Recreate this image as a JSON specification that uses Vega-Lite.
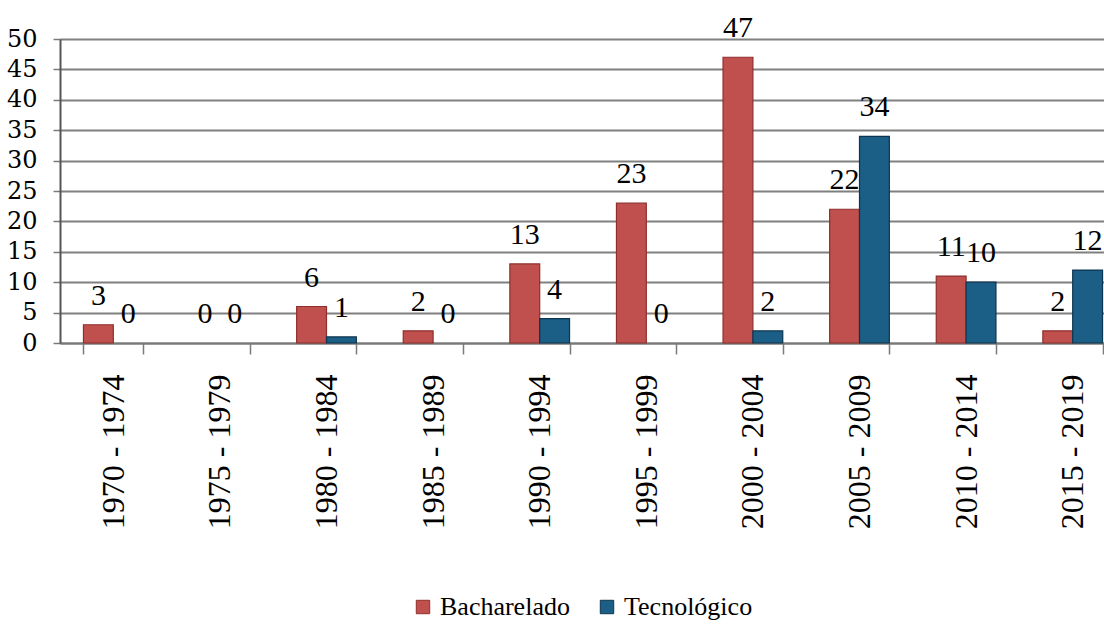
{
  "$schema": "https://vega.github.io/schema/vega-lite/v6.json",
  "autosize": {"type": "none"},
  "padding": {"left": 60, "top": 39, "right": 0, "bottom": 283},
  "width": 1044,
  "height": 304,
  "background": "white",
  "config": {
    "font": "serif",
    "view": {"stroke": null}
  },
  "data": {
    "values": [
      {"periodo": "1970 - 1974", "serie": "Bacharelado", "valor": 3},
      {"periodo": "1970 - 1974", "serie": "Tecnológico", "valor": 0},
      {"periodo": "1975 - 1979", "serie": "Bacharelado", "valor": 0},
      {"periodo": "1975 - 1979", "serie": "Tecnológico", "valor": 0},
      {"periodo": "1980 - 1984", "serie": "Bacharelado", "valor": 6},
      {"periodo": "1980 - 1984", "serie": "Tecnológico", "valor": 1},
      {"periodo": "1985 - 1989", "serie": "Bacharelado", "valor": 2},
      {"periodo": "1985 - 1989", "serie": "Tecnológico", "valor": 0},
      {"periodo": "1990 - 1994", "serie": "Bacharelado", "valor": 13},
      {"periodo": "1990 - 1994", "serie": "Tecnológico", "valor": 4},
      {"periodo": "1995 - 1999", "serie": "Bacharelado", "valor": 23},
      {"periodo": "1995 - 1999", "serie": "Tecnológico", "valor": 0},
      {"periodo": "2000 - 2004", "serie": "Bacharelado", "valor": 47},
      {"periodo": "2000 - 2004", "serie": "Tecnológico", "valor": 2},
      {"periodo": "2005 - 2009", "serie": "Bacharelado", "valor": 22},
      {"periodo": "2005 - 2009", "serie": "Tecnológico", "valor": 34},
      {"periodo": "2010 - 2014", "serie": "Bacharelado", "valor": 11},
      {"periodo": "2010 - 2014", "serie": "Tecnológico", "valor": 10},
      {"periodo": "2015 - 2019", "serie": "Bacharelado", "valor": 2},
      {"periodo": "2015 - 2019", "serie": "Tecnológico", "valor": 12}
    ]
  },
  "encoding": {
    "x": {
      "field": "periodo",
      "type": "nominal",
      "sort": null,
      "scale": {"range": [0, 1066], "paddingInner": 0.44, "paddingOuter": 0.22},
      "axis": {
        "title": null,
        "labelAngle": 270,
        "labelAlign": "right",
        "labelBaseline": "middle",
        "labelFont": "serif",
        "labelFontSize": 32,
        "labelColor": "black",
        "labelPadding": 20,
        "tickBand": "extent",
        "tickSize": 11,
        "tickColor": "#7a7a7a",
        "tickWidth": 1.5,
        "domainColor": "#7a7a7a",
        "domainWidth": 2,
        "grid": false
      }
    },
    "xOffset": {"field": "serie", "type": "nominal", "scale": {"paddingInner": 0, "paddingOuter": 0}},
    "y": {
      "field": "valor",
      "type": "quantitative",
      "scale": {"domain": [0, 50], "nice": false},
      "axis": {
        "title": null,
        "values": [0, 5, 10, 15, 20, 25, 30, 35, 40, 45, 50],
        "labelFont": "DejaVu Serif",
        "labelFontSize": 24,
        "labelColor": "black",
        "labelPadding": 16,
        "tickSize": 7,
        "tickColor": "#7a7a7a",
        "tickWidth": 1.5,
        "domainColor": "#555555",
        "domainWidth": 2,
        "grid": true,
        "gridColor": "#808080",
        "gridWidth": 1.8
      }
    }
  },
  "layer": [
    {
      "mark": {"type": "bar", "strokeWidth": 1.2},
      "encoding": {
        "color": {
          "field": "serie",
          "type": "nominal",
          "scale": {"domain": ["Bacharelado", "Tecnológico"], "range": ["#C0504D", "#1B5E86"]},
          "legend": {
            "title": null,
            "orient": "none",
            "legendX": 350,
            "legendY": 555,
            "direction": "horizontal",
            "symbolType": "square",
            "symbolSize": 180,
            "symbolStrokeWidth": 1,
            "labelFont": "Liberation Serif",
            "labelFontSize": 26,
            "labelColor": "black",
            "labelOffset": 4,
            "columnPadding": 24
          }
        },
        "stroke": {
          "field": "serie",
          "type": "nominal",
          "scale": {"domain": ["Bacharelado", "Tecnológico"], "range": ["#8E2F2C", "#0C3550"]},
          "legend": null
        },
        "strokeOpacity": {
          "condition": {"test": "datum.valor === 0", "value": 0},
          "value": 1
        }
      }
    },
    {
      "mark": {"type": "text", "baseline": "alphabetic", "dy": -20, "fontSize": 30, "font": "Times New Roman", "color": "black"},
      "encoding": {
        "text": {"field": "valor", "type": "quantitative"}
      }
    }
  ]
}
